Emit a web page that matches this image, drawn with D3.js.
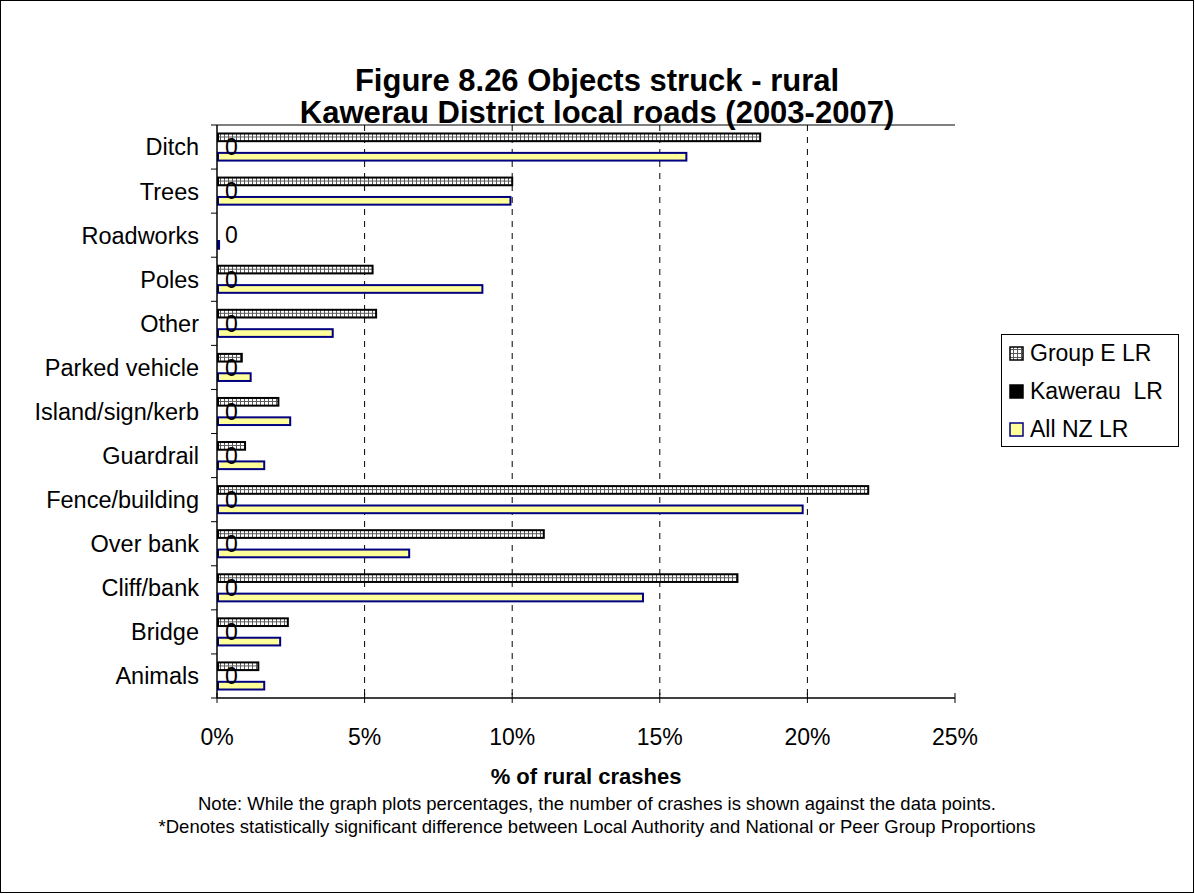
<!DOCTYPE html>
<html><head><meta charset="utf-8">
<script src="https://cdn.jsdelivr.net/npm/d3@7"></script>
<style>body{margin:0;background:#fff;}svg{display:block;font-family:"Liberation Sans",Arial,sans-serif;}</style>
</head><body><svg id="c" width="1195" height="894"></svg>
<script>
const categories = ["Ditch","Trees","Roadworks","Poles","Other","Parked vehicle","Island/sign/kerb","Guardrail","Fence/building","Over bank","Cliff/bank","Bridge","Animals"];
const groupE = [18.4,10.0,0,5.27,5.39,0.84,2.08,0.95,22.06,11.07,17.63,2.4,1.4];
const kawerau = [0,0,0,0,0,0,0,0,0,0,0,0,0];
const allNZ = [15.9,9.94,0.07,8.99,3.92,1.14,2.48,1.6,19.84,6.51,14.43,2.14,1.6];
const kawerauCounts = [0,0,0,0,0,0,0,0,0,0,0,0,0];
const seriesNames = ["Group E LR","Kawerau  LR","All NZ LR"];
const xTicks = [0,5,10,15,20,25];
const titleLines = ["Figure 8.26 Objects struck - rural","Kawerau District local roads (2003-2007)"];
const xTitle = "% of rural crashes";
const notes = ["Note: While the graph plots percentages, the number of crashes is shown against the data points.","*Denotes statistically significant difference between Local Authority and National or Peer Group Proportions"];

const svg = d3.select("#c");
const defs = svg.append("defs");
const pat = defs.append("pattern").attr("id","dots").attr("patternUnits","userSpaceOnUse").attr("width",4).attr("height",4);
pat.append("rect").attr("width",4).attr("height",4).attr("fill","#ffffff");
pat.append("rect").attr("width",4).attr("height",1).attr("fill","#5a5a5a");
pat.append("rect").attr("width",1).attr("height",4).attr("fill","#5a5a5a");

svg.append("rect").attr("x",0.5).attr("y",0.5).attr("width",1193).attr("height",892).attr("fill","#fff").attr("stroke","#000");

const L=217, R=955, T=125, B=698;
const x = d3.scaleLinear().domain([0,25]).range([L,R]);
const y = d3.scaleBand().domain(categories).range([T,B]).paddingInner(0.34).paddingOuter(0.17);
const sub = d3.scaleBand().domain(seriesNames).range([0,y.bandwidth()]);

// title
svg.append("g").selectAll("text").data(titleLines).join("text")
  .attr("x",597).attr("y",(d,i)=>91+i*32).attr("text-anchor","middle")
  .attr("font-size",31).attr("font-weight","bold").text(d=>d);

// gridlines
svg.append("g").selectAll("line").data(xTicks.filter(t=>t>0&&t<25)).join("line")
  .attr("x1",d=>x(d)).attr("x2",d=>x(d)).attr("y1",T).attr("y2",B)
  .attr("stroke","#000").attr("stroke-width",1).attr("stroke-dasharray","6,6");

// bars
const rows = categories.map((c,i)=>({c, vals:[groupE[i],kawerau[i],allNZ[i]]}));
const styles = [
  {fill:"url(#dots)",stroke:"#000"},
  {fill:"#000",stroke:"#000"},
  {fill:"#ffff99",stroke:"#000080"}
];
const gRows = svg.append("g").selectAll("g").data(rows).join("g").attr("transform",d=>`translate(0,${y(d.c)})`);
gRows.selectAll("rect").data(d=>d.vals.map((v,j)=>({v,j}))).join("rect")
  .filter(d=>d.v>0)
  .attr("x",x(0)+1).attr("y",d=>sub(seriesNames[d.j])+1)
  .attr("width",d=>Math.max(0,x(d.v)-x(0)-1)).attr("height",sub.bandwidth()-2)
  .attr("fill",d=>styles[d.j].fill).attr("stroke",d=>styles[d.j].stroke).attr("stroke-width",2);

// labels for Kawerau
svg.append("g").selectAll("text").data(categories).join("text")
  .attr("x",(d,i)=>x(kawerau[i])+8).attr("y",d=>y(d)+sub(seriesNames[1])+sub.bandwidth()/2)
  .attr("dy","0.36em").attr("font-size",23).text((d,i)=>kawerauCounts[i]);

// top line
svg.append("line").attr("x1",L).attr("x2",R).attr("y1",T).attr("y2",T).attr("stroke","#000").attr("stroke-width",1);

// y axis
const yAxisG = svg.append("g").attr("transform",`translate(${L},0)`);
yAxisG.append("line").attr("x1",0).attr("x2",0).attr("y1",T).attr("y2",B).attr("stroke","#000").attr("stroke-width",1.5);
const bounds = d3.range(categories.length+1).map(i=>T+i*(B-T)/categories.length);
yAxisG.selectAll("line.tk").data(bounds).join("line").attr("class","tk")
  .attr("x1",-6).attr("x2",0).attr("y1",d=>d).attr("y2",d=>d).attr("stroke","#000");
yAxisG.selectAll("text").data(categories).join("text")
  .attr("x",-18).attr("y",d=>y(d)+y.bandwidth()/2).attr("dy","0.36em")
  .attr("text-anchor","end").attr("font-size",23.5).text(d=>d);

// x axis
const xAxisG = svg.append("g").attr("transform",`translate(0,${B})`);
xAxisG.append("line").attr("x1",L).attr("x2",R).attr("stroke","#000").attr("stroke-width",1.5);
xAxisG.selectAll("line.tk").data(xTicks).join("line").attr("class","tk")
  .attr("x1",d=>x(d)).attr("x2",d=>x(d)).attr("y1",-5).attr("y2",5).attr("stroke","#000");
xAxisG.selectAll("text").data(xTicks).join("text")
  .attr("x",d=>x(d)).attr("y",47).attr("text-anchor","middle").attr("font-size",23).text(d=>d+"%");

svg.append("text").attr("x",586).attr("y",784).attr("text-anchor","middle").attr("font-size",22).attr("font-weight","bold").text(xTitle);
svg.append("g").selectAll("text").data(notes).join("text")
  .attr("x",597).attr("y",(d,i)=>810+i*23).attr("text-anchor","middle").attr("font-size",18.5).text(d=>d);

// legend
const lg = svg.append("g").attr("transform","translate(1001,334)");
lg.append("rect").attr("x",0.5).attr("y",0.5).attr("width",177).attr("height",112).attr("fill","#fff").attr("stroke","#000");
const li = lg.selectAll("g").data(seriesNames).join("g").attr("transform",(d,i)=>`translate(0,${19+i*38})`);
li.append("rect").attr("x",9).attr("y",-6).attr("width",13).attr("height",13)
  .attr("fill",(d,i)=>styles[i].fill).attr("stroke",(d,i)=>styles[i].stroke).attr("stroke-width",1.5);
li.append("text").attr("x",29).attr("y",0).attr("dy","0.36em").attr("font-size",23).text(d=>d).style("white-space","pre");
</script></body></html>
